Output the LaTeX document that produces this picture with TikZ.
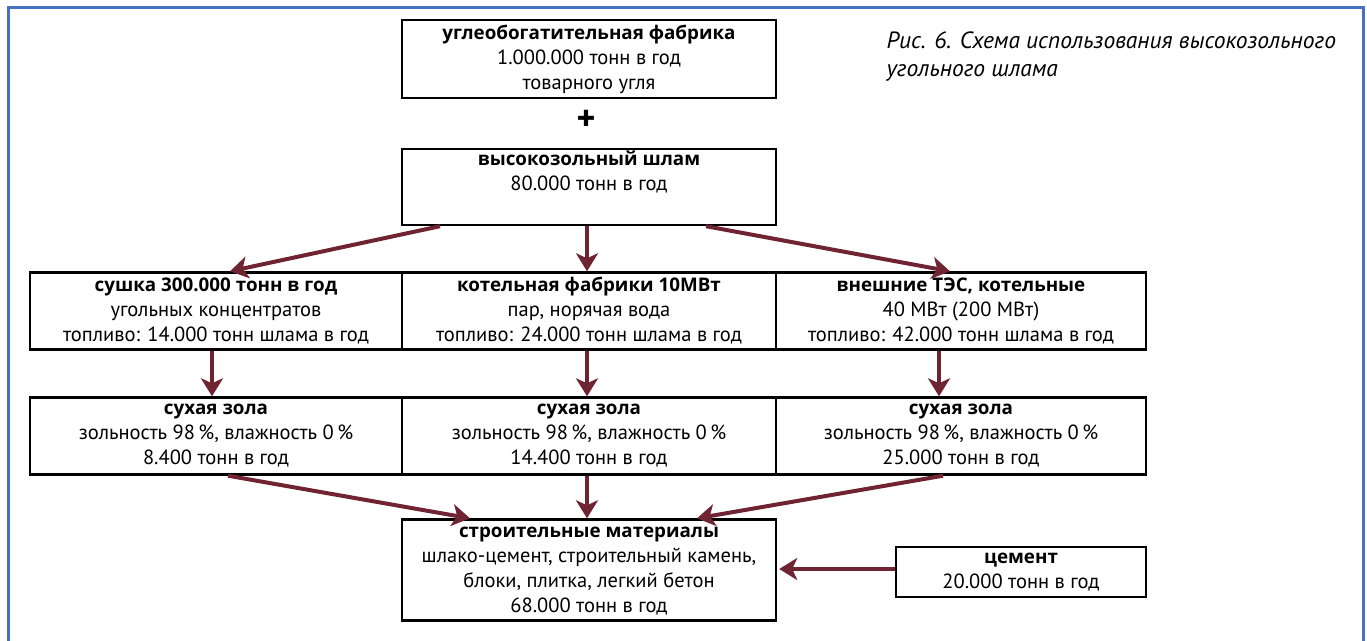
\documentclass[tikz,border=0pt]{standalone}
\usepackage{fontspec}
\setmainfont{PT Sans}
\newfontfamily\titlefont{Open Sans}
\usetikzlibrary{arrows.meta, calc}

\definecolor{flowred}{RGB}{112,36,50}
\definecolor{frameblue}{RGB}{68,114,192}

\newcommand{\boxtitle}[1]{{\titlefont\bfseries\fontsize{18.8}{25}\selectfont #1}}

\begin{document}
\begin{tikzpicture}[
        x=1pt, y=-1pt,
        box/.style={draw, line width=2.4pt, align=center, inner sep=0pt,
            font=\fontsize{20.5}{25}\selectfont},
        flow/.style={line width=4pt, flowred, -{Stealth[length=18pt, width=22pt, inset=5pt]}},
    ]

    \useasboundingbox (0, 0) rectangle (1367, 640);
    \draw[frameblue, line width=3pt] (8, 7) rectangle (1363, 680);

    \node[box, minimum width=374pt, minimum height=78pt] (plant) at (589, 59)
        {\boxtitle{углеобогатительная фабрика}\\1.000.000 тонн в год\\товарного угля};
    \node[font=\fontsize{36}{36}\selectfont\bfseries] (plus) at (586, 120) {+};
    \node[box, minimum width=374pt, minimum height=76pt] (slurry) at (589, 187)
        {\boxtitle{высокозольный шлам}\\80.000 тонн в год\\\strut};

    \node[box, minimum width=372pt, minimum height=77pt] (dryer) at (216, 311)
        {\boxtitle{сушка 300.000 тонн в год}\\угольных концентратов\\топливо: 14.000 тонн шлама в год};
    \node[box, minimum width=374pt, minimum height=77pt] (boiler) at (589, 311)
        {\boxtitle{котельная фабрики 10МВт}\\пар, норячая вода\\топливо: 24.000 тонн шлама в год};
    \node[box, minimum width=370pt, minimum height=77pt] (tpp) at (961, 311)
        {\boxtitle{внешние ТЭС, котельные}\\40 МВт (200 МВт)\\топливо: 42.000 тонн шлама в год};

    \node[box, minimum width=372pt, minimum height=77pt] (ashdryer) at (216, 436)
        {\boxtitle{сухая зола}\\зольность 98\,\%, влажность 0\,\%\\8.400 тонн в год};
    \node[box, minimum width=374pt, minimum height=77pt] (ashboiler) at (589, 436)
        {\boxtitle{сухая зола}\\зольность 98\,\%, влажность 0\,\%\\14.400 тонн в год};
    \node[box, minimum width=370pt, minimum height=77pt] (ashtpp) at (961, 436)
        {\boxtitle{сухая зола}\\зольность 98\,\%, влажность 0\,\%\\25.000 тонн в год};

    \node[box, minimum width=374pt, minimum height=101pt, text depth=-3pt] (build) at (589, 570)
        {\boxtitle{строительные материалы}\\шлако-цемент, строительный камень,\\блоки, плитка, легкий бетон\\68.000 тонн в год};
    \node[box, minimum width=250pt, minimum height=50pt] (cement) at (1021, 572)
        {\boxtitle{цемент}\\20.000 тонн в год};

    \node[anchor=north west, align=left, font=\fontsize{23.5}{28}\selectfont\itshape] (caption) at (883, 28)
        {Рис. 6. Схема использования высокозольного\\угольного шлама};

    \draw[flow] ([xshift=-149pt]slurry.south) -- ([xshift=14pt]dryer.north);
    \draw[flow] ([xshift=-2pt]slurry.south) -- ([xshift=-2pt]boiler.north);
    \draw[flow] ([xshift=117pt]slurry.south) -- ([xshift=-11pt]tpp.north);

    \foreach \src/\dst/\dx in {dryer/ashdryer/-4, boiler/ashboiler/-2, tpp/ashtpp/-22}
        \draw[flow] ([xshift=\dx pt]\src.south) -- ([xshift=\dx pt]\dst.north);

    \draw[flow] ([xshift=12pt]ashdryer.south) -- ([xshift=-119pt]build.north);
    \draw[flow] ([xshift=-2pt]ashboiler.south) -- ([xshift=-2pt]build.north);
    \draw[flow] ([xshift=-18pt]ashtpp.south) -- ([xshift=108pt]build.north);
    \draw[flow] ([yshift=3pt]cement.west) -- ([xshift=2pt, yshift=3pt]cement.west -| build.east);
\end{tikzpicture}
\end{document}
